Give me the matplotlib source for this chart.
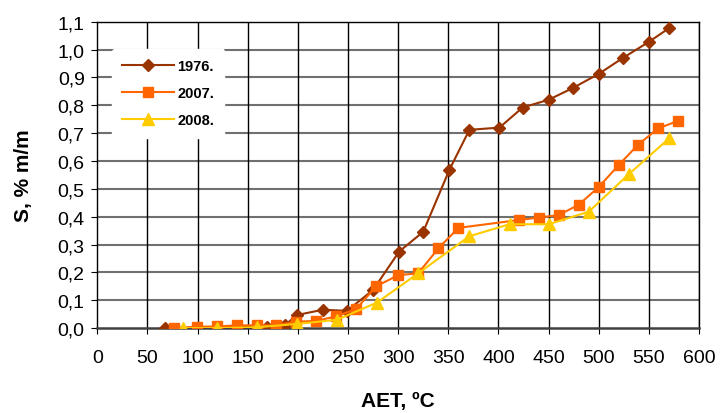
import matplotlib
matplotlib.use("Agg")
import matplotlib.pyplot as plt

plt.rcParams['font.family'] = ['Liberation Sans', 'DejaVu Sans']

# 1976. series
t_1976 = [68, 139, 169, 187, 199, 225, 249, 275, 301, 325, 351, 371, 401, 424, 450, 474, 500, 524, 550, 570]
s_1976 = [0.0, 0.005, 0.003, 0.01, 0.047, 0.066, 0.062, 0.137, 0.275, 0.346, 0.568, 0.712, 0.72, 0.792, 0.82, 0.862, 0.913, 0.97, 1.028, 1.077]

# 2007. series
t_2007 = [77, 99, 119, 139, 159, 178, 198, 218, 238, 258, 278, 300, 320, 340, 360, 420, 440, 460, 480, 500, 520, 539, 559, 579]
s_2007 = [0.0, 0.005, 0.006, 0.01, 0.01, 0.01, 0.023, 0.026, 0.042, 0.068, 0.15, 0.19, 0.197, 0.286, 0.36, 0.388, 0.397, 0.406, 0.443, 0.507, 0.586, 0.658, 0.717, 0.744]

# 2008. series
t_2008 = [86, 119, 159, 199, 239, 279, 320, 371, 411, 450, 490, 530, 570]
s_2008 = [0.0, 0.0, 0.003, 0.015, 0.03, 0.092, 0.197, 0.33, 0.373, 0.373, 0.418, 0.553, 0.681]

x_ticks = list(range(0, 601, 50))
y_ticks = [0.0, 0.1, 0.2, 0.3, 0.4, 0.5, 0.6, 0.7, 0.8, 0.9, 1.0, 1.1]
y_labels = ['0,0', '0,1', '0,2', '0,3', '0,4', '0,5', '0,6', '0,7', '0,8', '0,9', '1,0', '1,1']

fig = plt.figure(figsize=(7.2, 4.14), dpi=100)
ax = fig.add_axes([0.135, 0.205, 0.836, 0.740])

ax.plot(t_1976, s_1976, color='#993300', marker='D', markersize=6.5, lw=1.5, label='1976.', zorder=3)
ax.plot(t_2007, s_2007, color='#FF6600', marker='s', markersize=7.5, lw=1.5, label='2007.', zorder=4)
ax.plot(t_2008, s_2008, color='#FFCC00', marker='^', markersize=9, lw=1.5, label='2008.', zorder=5)

ax.set_xlim(0, 600)
ax.set_ylim(0, 1.1)
ax.set_xticks(x_ticks)
ax.set_yticks(y_ticks)
ax.set_yticklabels(y_labels)
ax.tick_params(labelsize=14, length=4, direction='out', color='black')
ax.tick_params(axis='x', pad=11)
ax.tick_params(axis='y', pad=5)

# grid: grey horizontals, black verticals
for y in y_ticks[1:]:
    ax.axhline(y, color='#707070', lw=1.5, zorder=1)
for x in x_ticks[1:]:
    ax.axvline(x, color='black', lw=1.0, zorder=1)

for sp in ax.spines.values():
    sp.set_color('black')
    sp.set_linewidth(1.0)
ax.spines['bottom'].set_linewidth(1.8)
ax.spines['bottom'].set_color('#404040')

ax.set_xlabel('AET, ºC', fontsize=15, fontweight='bold', labelpad=18)
ax.set_ylabel('S, % m/m', fontsize=15, fontweight='bold', labelpad=18)

leg = ax.legend(loc='upper left', bbox_to_anchor=(0.012, 0.935), frameon=True,
                prop={'size': 10.5, 'weight': 'bold'}, handlelength=3.6,
                handletextpad=0.2, labelspacing=0.9, borderpad=0.7)
leg.get_frame().set_edgecolor('white')
leg.get_frame().set_facecolor('white')
leg.get_frame().set_alpha(1)
leg.set_zorder(6)

fig.savefig('out.png', dpi=100)
